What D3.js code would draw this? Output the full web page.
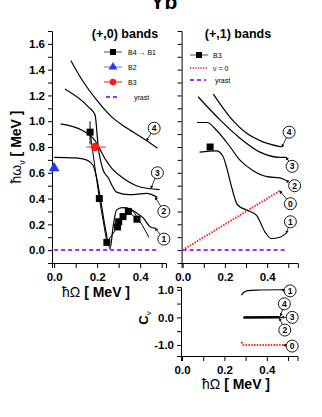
<!DOCTYPE html>
<html>
<head>
<meta charset="utf-8">
<script src="https://cdn.jsdelivr.net/npm/d3@7"></script>
<style>
  body { margin: 0; background: #fff; }
  svg { font-family: "Liberation Sans", Arial, sans-serif; }
</style>
</head>
<body>
<div id="chart"></div>
<script>
const width = 322, height = 417;

// (+,0) bands : theory curves [hbarOmega, hbarOmega_nu]
const left4 = [[0.078, 1.47], [0.13, 1.32], [0.2, 1.16], [0.27, 1.03], [0.34, 0.945], [0.43, 0.85], [0.48, 0.79]];
const left3 = [[0.03, 0.98], [0.13, 0.93], [0.19, 0.85], [0.24, 0.70], [0.27, 0.63], [0.32, 0.56], [0.40, 0.49], [0.49, 0.47]];
const left2 = [[0.05, 1.25], [0.16, 1.11], [0.19, 1.05], [0.205, 0.80], [0.228, 0.62], [0.25, 0.565], [0.29, 0.45], [0.35, 0.43], [0.43, 0.44], [0.48, 0.41]];
const left1 = [[0.0, 0.72], [0.1, 0.715], [0.15, 0.70], [0.18, 0.66], [0.195, 0.58], [0.215, 0.40], [0.24, 0.15], [0.26, 0.01],
  [0.274, 0.18], [0.29, 0.31], [0.316, 0.33], [0.344, 0.325], [0.377, 0.295], [0.414, 0.25], [0.447, 0.18], [0.47, 0.17]];
const left1b = [[0.33, 0.33], [0.36, 0.31], [0.40, 0.22], [0.44, 0.10]];
const yrastLeft = [[0.0, 0.0], [0.48, 0.0]];

// (+,0) experimental points
const b4b1 = [[0.167, 0.915], [0.21, 0.40], [0.245, 0.06], [0.295, 0.18], [0.30, 0.22], [0.32, 0.26], [0.345, 0.30], [0.385, 0.24]];
const b4b1Err = [0.82, 1.0];
const b2 = [[0.0, 0.635]];
const b3 = [[0.19, 0.80]];
const b3Err = [0.15, 0.24];

// (+,1) bands
const right4 = [[0.145, 1.21], [0.225, 1.03], [0.30, 0.91], [0.38, 0.84], [0.47, 0.80]];
const right3 = [[0.073, 1.19], [0.177, 1.01], [0.27, 0.87], [0.366, 0.76], [0.46, 0.72], [0.49, 0.72]];
const right2 = [[0.068, 0.99], [0.115, 0.99], [0.16, 0.93], [0.225, 0.80], [0.27, 0.70], [0.33, 0.62], [0.40, 0.57], [0.46, 0.56], [0.49, 0.54]];
const right1 = [[0.08, 0.76], [0.16, 0.77], [0.19, 0.73], [0.21, 0.63], [0.23, 0.50], [0.26, 0.35], [0.305, 0.31], [0.35, 0.27],
  [0.39, 0.14], [0.42, 0.09], [0.46, 0.10], [0.49, 0.13]];
const right0 = [[0.0, 0.0], [0.46, 0.46]];
const yrastRight = [[0.0, 0.0], [0.49, 0.0]];
const rightB3 = [[0.13, 0.80]];

// signature C_nu
const cv1 = [[0.28, 0.80], [0.29, 0.90], [0.31, 0.97], [0.35, 0.99], [0.47, 1.0]];
const cv2 = [[0.29, -0.03], [0.46, -0.02]];
const cv3 = [[0.29, 0.0], [0.47, 0.0]];
const cv4 = [[0.29, 0.02], [0.46, 0.03]];
const cv0 = [[0.28, -0.9], [0.29, -1.0], [0.48, -1.0]];

const xTicks = [0, 0.1, 0.2, 0.3, 0.4, 0.5];
const xTickLabels = ["0.0", "0.2", "0.4"];
const yTicks = [0, 0.1, 0.2, 0.3, 0.4, 0.5, 0.6, 0.7, 0.8, 0.9, 1.0, 1.1, 1.2, 1.3, 1.4, 1.5, 1.6];
const cvTicks = [-1.0, -0.5, 0.0, 0.5, 1.0];

const svg = d3.select('#chart').append('svg')
    .attr('width', width)
    .attr('height', height);

// arrow marker for the band labels
svg.append("defs").append("marker")
    .attr("id", "arr")
    .attr("viewBox", "0 0 6 6")
    .attr("refX", 5).attr("refY", 3)
    .attr("markerWidth", 4).attr("markerHeight", 4)
    .attr("orient", "auto")
    .append("path").attr("d", "M0,0L6,3L0,6z").attr("fill", "#000");

// scales
const xL = d3.scaleLinear().domain([-0.01, 0.52]).range([52, 166]);
const xR = d3.scaleLinear().domain([-0.005, 0.545]).range([181.6, 297.8]);
const y = d3.scaleLinear().domain([-0.1, 1.7]).range([263, 31]);
const xC = d3.scaleLinear().domain([-0.005, 0.545]).range([181, 297.5]);
const yC = d3.scaleLinear().domain([-1.4, 1.1]).range([356, 287]);

function fmt(v, labels) {
    const s = v.toFixed(1);
    return labels.includes(s) ? s : "";
}

function axes(g, xs, ys, xt, yt, yLabels) {
    const ax = g.append("g")
        .attr("transform", `translate(0,${ys.range()[0]})`)
        .call(d3.axisBottom(xs).tickValues(xt).tickSizeOuter(0).tickSize(5).tickPadding(5)
            .tickFormat(d => fmt(d, xTickLabels)));
    const ay = g.append("g")
        .attr("transform", `translate(${xs.range()[0]},0)`)
        .call(d3.axisLeft(ys).tickValues(yt).tickSizeOuter(0).tickSize(4).tickPadding(3)
            .tickFormat(d => yLabels ? fmt(d, yLabels) : ""));
    [ax, ay].forEach(a => {
        a.select(".domain").attr("stroke", "#000").attr("stroke-width", 1);
        a.selectAll("line").attr("stroke", "#000");
        a.selectAll("text").attr("font-size", 11.5).attr("font-weight", "bold").attr("fill", "#000")
            .attr("font-family", "'Liberation Sans', Arial, sans-serif");
    });
}

const line = (xs, ys) => d3.line().x(d => xs(d[0])).y(d => ys(d[1])).curve(d3.curveMonotoneX);
const straight = (xs, ys) => d3.line().x(d => xs(d[0])).y(d => ys(d[1]));

function curve(data, xs, ys, w) {
    svg.append("path").datum(data)
        .attr("fill", "none").attr("stroke", "#000").attr("stroke-width", w || 1.2)
        .attr("d", line(xs, ys));
}

function yrast(data, xs, ys) {
    svg.append("path").datum(data)
        .attr("fill", "none").attr("stroke", "#9b30ff").attr("stroke-width", 2)
        .attr("stroke-dasharray", "4,3")
        .attr("d", straight(xs, ys));
}

function tag(num, cx, cy, tx, ty, xs, ys) {
    svg.append("line")
        .attr("x1", xs(cx)).attr("y1", ys(cy))
        .attr("x2", xs(tx)).attr("y2", ys(ty))
        .attr("stroke", "#000").attr("stroke-width", 0.8)
        .attr("marker-end", "url(#arr)");
    svg.append("circle")
        .attr("cx", xs(cx)).attr("cy", ys(cy)).attr("r", 6)
        .attr("fill", "#fff").attr("stroke", "#000").attr("stroke-width", 0.9);
    svg.append("text")
        .attr("x", xs(cx)).attr("y", ys(cy) + 3)
        .attr("text-anchor", "middle").attr("font-size", 8.5).attr("font-weight", "bold")
        .text(num);
}

// title
svg.append("text").attr("x", 164).attr("y", 9)
    .attr("text-anchor", "middle").attr("font-size", 21).attr("font-weight", "bold")
    .text("Yb");

// ---------- left panel (+,0) ----------
axes(svg.append("g"), xL, y, xTicks, yTicks, ["0.0", "0.2", "0.4", "0.6", "0.8", "1.0", "1.2", "1.4", "1.6"]);

svg.append("text").attr("x", 125).attr("y", 38)
    .attr("text-anchor", "middle").attr("font-size", 12.5).attr("font-weight", "bold")
    .text("(+,0) bands");

yrast(yrastLeft, xL, y);
[left4, left3, left2, left1].forEach(c => curve(c, xL, y));
curve(left1b, xL, y, 1);

// B4 -> B1 data
svg.append("line")
    .attr("x1", xL(b4b1[0][0])).attr("x2", xL(b4b1[0][0]))
    .attr("y1", y(b4b1Err[0])).attr("y2", y(b4b1Err[1]))
    .attr("stroke", "#000").attr("stroke-width", 1);
svg.append("path").datum(b4b1)
    .attr("fill", "none").attr("stroke", "#000").attr("stroke-width", 1)
    .attr("d", straight(xL, y));
svg.selectAll(".sq").data(b4b1).enter().append("rect")
    .attr("x", d => xL(d[0]) - 3.5).attr("y", d => y(d[1]) - 3.5)
    .attr("width", 7).attr("height", 7).attr("fill", "#000");

// B3 with error bar
svg.append("line")
    .attr("x1", xL(b3Err[0])).attr("x2", xL(b3Err[1]))
    .attr("y1", y(b3[0][1])).attr("y2", y(b3[0][1]))
    .attr("stroke", "#ff2020").attr("stroke-width", 1);
svg.selectAll(".b3").data(b3).enter().append("circle")
    .attr("cx", d => xL(d[0])).attr("cy", d => y(d[1])).attr("r", 4.2).attr("fill", "#ff1a1a");

// B2 triangle
svg.selectAll(".b2").data(b2).enter().append("path")
    .attr("transform", d => `translate(${xL(d[0])},${y(d[1])})`)
    .attr("d", d3.symbol(d3.symbolTriangle, 50)())
    .attr("fill", "#1a3cff");

tag("4", 0.465, 0.946, 0.43, 0.85, xL, y);
tag("3", 0.48, 0.60, 0.45, 0.48, xL, y);
tag("2", 0.51, 0.30, 0.47, 0.41, xL, y);
tag("1", 0.51, 0.085, 0.47, 0.17, xL, y);

// left legend
const legL = svg.append("g").attr("font-size", 7);
[["B4 \u2192 B1", 52], ["B2", 67], ["B3", 82], ["yrast", 97]].forEach(([t, yy], i) => {
    if (i < 3) {
        legL.append("line").attr("x1", 104).attr("x2", 122).attr("y1", yy).attr("y2", yy)
            .attr("stroke", ["#888", "#8fa6ff", "#ff6060"][i]).attr("stroke-width", 1.5);
    } else {
        legL.append("line").attr("x1", 106).attr("x2", 120).attr("y1", yy).attr("y2", yy)
            .attr("stroke", "#9b30ff").attr("stroke-width", 2).attr("stroke-dasharray", "4,3");
    }
    if (i === 0) legL.append("rect").attr("x", 110).attr("y", yy - 3).attr("width", 6).attr("height", 6).attr("fill", "#000");
    if (i === 1) legL.append("path").attr("transform", `translate(113,${yy})`).attr("d", d3.symbol(d3.symbolTriangle, 34)()).attr("fill", "#1a3cff");
    if (i === 2) legL.append("circle").attr("cx", 113).attr("cy", yy).attr("r", 3.3).attr("fill", "#ff1a1a");
    legL.append("text").attr("x", i === 3 ? 134 : 128).attr("y", yy + 2.5).text(t);
});

// y label
const yl = svg.append("text")
    .attr("transform", "translate(21,147) rotate(-90)")
    .attr("text-anchor", "middle").attr("font-size", 14);
yl.append("tspan").text("\u0127\u03c9");
yl.append("tspan").attr("font-size", 9).attr("dy", 4).text("\u03bd");
yl.append("tspan").attr("dy", -4).attr("font-weight", "bold").text(" [ MeV ]");

const xl = svg.append("text").attr("x", 96).attr("y", 297)
    .attr("text-anchor", "middle").attr("font-size", 14);
xl.append("tspan").text("\u0127\u03a9  ");
xl.append("tspan").attr("font-weight", "bold").text("[ MeV ]");

// ---------- right panel (+,1) ----------
axes(svg.append("g"), xR, y, xTicks, yTicks, null);

svg.append("text").attr("x", 238).attr("y", 38)
    .attr("text-anchor", "middle").attr("font-size", 12.5).attr("font-weight", "bold")
    .text("(+,1) bands");

yrast(yrastRight, xR, y);
svg.append("path").datum(right0)
    .attr("fill", "none").attr("stroke", "#ff1a1a").attr("stroke-width", 2)
    .attr("stroke-dasharray", "1.4,1.4")
    .attr("d", straight(xR, y));
[right4, right3, right2, right1].forEach(c => curve(c, xR, y));

svg.selectAll(".rb3").data(rightB3).enter().append("rect")
    .attr("x", d => xR(d[0]) - 3.5).attr("y", d => y(d[1]) - 3.5)
    .attr("width", 7).attr("height", 7).attr("fill", "#000");

tag("4", 0.504, 0.915, 0.47, 0.80, xR, y);
tag("3", 0.518, 0.65, 0.49, 0.72, xR, y);
tag("2", 0.53, 0.50, 0.49, 0.54, xR, y);
tag("0", 0.51, 0.36, 0.46, 0.46, xR, y);
tag("1", 0.51, 0.22, 0.49, 0.13, xR, y);

// right legend
const legR = svg.append("g").attr("font-size", 7);
legR.append("line").attr("x1", 190).attr("x2", 208).attr("y1", 55).attr("y2", 55).attr("stroke", "#888").attr("stroke-width", 1.5);
legR.append("rect").attr("x", 196).attr("y", 52).attr("width", 6).attr("height", 6).attr("fill", "#000");
legR.append("line").attr("x1", 190).attr("x2", 208).attr("y1", 68).attr("y2", 68).attr("stroke", "#ff1a1a").attr("stroke-width", 1.6).attr("stroke-dasharray", "1.3,1.3");
legR.append("line").attr("x1", 190).attr("x2", 206).attr("y1", 80).attr("y2", 80).attr("stroke", "#9b30ff").attr("stroke-width", 2).attr("stroke-dasharray", "4,3");
legR.append("text").attr("x", 213).attr("y", 57.5).text("B3");
legR.append("text").attr("x", 213).attr("y", 70.5).text("\u03bd = 0");
legR.append("text").attr("x", 215).attr("y", 82.5).text("yrast");

// ---------- C_nu panel ----------
const gc = svg.append("g");
gc.append("g")
    .attr("transform", `translate(0,${yC.range()[0]})`)
    .call(d3.axisBottom(xC).tickValues(xTicks).tickSizeOuter(0).tickSize(5).tickPadding(5)
        .tickFormat(d => fmt(d, xTickLabels)));
gc.append("g")
    .attr("transform", `translate(${xC.range()[0]},0)`)
    .call(d3.axisLeft(yC).tickValues(cvTicks).tickSizeOuter(0).tickSize(4).tickPadding(3)
        .tickFormat(d => Math.abs(d % 1) < 1e-9 ? d.toFixed(1) : ""));
gc.selectAll("text").attr("font-size", 11.5).attr("font-weight", "bold").attr("fill", "#000");

[cv2, cv3, cv4].forEach(c => curve(c, xC, yC, 1.3));
curve(cv1, xC, yC, 1.2);
svg.append("path").datum(cv0)
    .attr("fill", "none").attr("stroke", "#ff1a1a").attr("stroke-width", 2)
    .attr("stroke-dasharray", "1.4,1.4")
    .attr("d", straight(xC, yC));

tag("1", 0.51, 0.96, 0.47, 1.0, xC, yC);
tag("4", 0.483, 0.49, 0.465, 0.05, xC, yC);
tag("3", 0.52, 0.0, 0.47, 0.0, xC, yC);
tag("2", 0.485, -0.46, 0.46, -0.03, xC, yC);
tag("0", 0.52, -1.04, 0.48, -1.0, xC, yC);

const cl = svg.append("text")
    .attr("transform", "translate(148,318) rotate(-90)")
    .attr("text-anchor", "middle").attr("font-size", 13).attr("font-weight", "bold");
cl.append("tspan").text("C");
cl.append("tspan").attr("font-size", 8).attr("dy", 3).attr("font-weight", "normal").text("\u03bd");

const xl2 = svg.append("text").attr("x", 236).attr("y", 389)
    .attr("text-anchor", "middle").attr("font-size", 14);
xl2.append("tspan").text("\u0127\u03a9  ");
xl2.append("tspan").attr("font-weight", "bold").text("[ MeV ]");
</script>
</body>
</html>
